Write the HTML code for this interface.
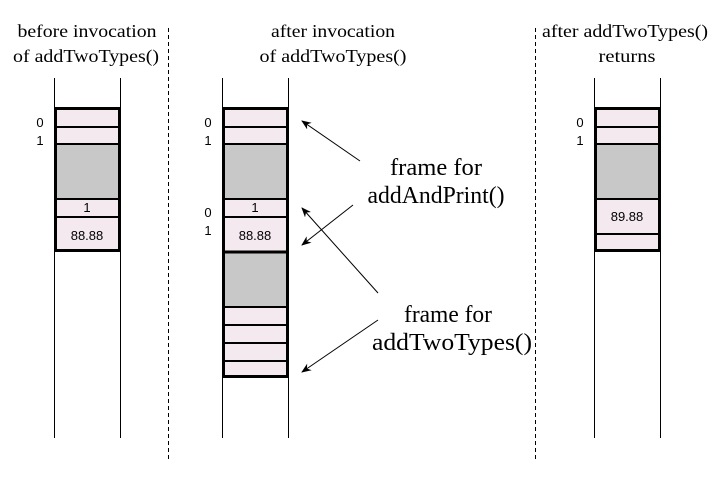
<!DOCTYPE html>
<html><head><style>body{margin:0;background:#fff}svg{display:block}</style></head><body>
<svg width="720" height="489" viewBox="0 0 720 489" xmlns="http://www.w3.org/2000/svg" font-family="'Liberation Serif','DejaVu Serif',serif">
<defs><marker id="a" markerWidth="10" markerHeight="8" refX="9" refY="4" orient="auto" markerUnits="userSpaceOnUse"><path d="M0,0 L10,4 L0,8 L3,4 z" fill="#000"/></marker></defs>
<g font-size="18" text-anchor="middle" font-family="'Liberation Serif',serif">
<text x="87" y="37" textLength="139" lengthAdjust="spacingAndGlyphs">before invocation</text><text x="86" y="62" textLength="146" lengthAdjust="spacingAndGlyphs">of addTwoTypes()</text>
<text x="333" y="37" textLength="124" lengthAdjust="spacingAndGlyphs">after invocation</text><text x="333" y="62" textLength="147" lengthAdjust="spacingAndGlyphs">of addTwoTypes()</text>
<text x="625" y="37" textLength="166" lengthAdjust="spacingAndGlyphs">after addTwoTypes()</text><text x="627" y="62" textLength="57" lengthAdjust="spacingAndGlyphs">returns</text>
</g>
<g stroke="#000" stroke-dasharray="4,3"><line x1="168.5" y1="28" x2="168.5" y2="462"/><line x1="535.5" y1="28" x2="535.5" y2="462"/></g>
<g stroke="#000"><line x1="54.5" y1="78" x2="54.5" y2="438"/><line x1="120.5" y1="78" x2="120.5" y2="438"/>
<line x1="222.5" y1="78" x2="222.5" y2="438"/><line x1="288.5" y1="78" x2="288.5" y2="438"/>
<line x1="594.5" y1="78" x2="594.5" y2="438"/><line x1="660.5" y1="78" x2="660.5" y2="438"/></g>
<rect x="55" y="108" width="65" height="143" fill="#f3e9ef"/>
<rect x="55" y="144" width="65" height="55" fill="#c8c8c8"/>
<g stroke="#000" stroke-width="2"><line x1="55" y1="127" x2="120" y2="127"/><line x1="55" y1="144" x2="120" y2="144"/><line x1="55" y1="199" x2="120" y2="199"/><line x1="55" y1="217" x2="120" y2="217"/></g>
<rect x="55.5" y="108.5" width="64" height="142" fill="none" stroke="#000" stroke-width="3"/>
<rect x="223" y="108" width="65" height="269" fill="#f3e9ef"/>
<rect x="223" y="144" width="65" height="55" fill="#c8c8c8"/>
<rect x="223" y="252" width="65" height="55" fill="#c8c8c8"/>
<g stroke="#000" stroke-width="2"><line x1="223" y1="127" x2="288" y2="127"/><line x1="223" y1="144" x2="288" y2="144"/><line x1="223" y1="199" x2="288" y2="199"/><line x1="223" y1="217" x2="288" y2="217"/><line x1="223" y1="307" x2="288" y2="307"/><line x1="223" y1="325" x2="288" y2="325"/><line x1="223" y1="343" x2="288" y2="343"/><line x1="223" y1="361" x2="288" y2="361"/></g>
<line x1="223" y1="252" x2="288" y2="252" stroke="#000" stroke-width="3"/>
<rect x="223.5" y="108.5" width="64" height="268" fill="none" stroke="#000" stroke-width="3"/>
<rect x="595" y="108" width="65" height="143" fill="#f3e9ef"/>
<rect x="595" y="144" width="65" height="55" fill="#c8c8c8"/>
<g stroke="#000" stroke-width="2"><line x1="595" y1="127" x2="660" y2="127"/><line x1="595" y1="144" x2="660" y2="144"/><line x1="595" y1="199" x2="660" y2="199"/><line x1="595" y1="234" x2="660" y2="234"/></g>
<rect x="595.5" y="108.5" width="64" height="142" fill="none" stroke="#000" stroke-width="3"/>
<g font-size="13" text-anchor="middle" font-family="'Liberation Sans',sans-serif">
<text x="87" y="212">1</text><text x="87" y="240">88.88</text>
<text x="255" y="212">1</text><text x="255" y="240">88.88</text>
<text x="627" y="221">89.88</text>
<text x="40" y="127">0</text><text x="40" y="145">1</text>
<text x="208" y="127">0</text><text x="208" y="145">1</text>
<text x="208" y="217">0</text><text x="208" y="235">1</text>
<text x="580" y="127">0</text><text x="580" y="145">1</text>
</g>
<g stroke="#000" stroke-width="1" marker-end="url(#a)">
<line x1="360" y1="161" x2="302" y2="121"/>
<line x1="353" y1="205" x2="302" y2="245"/>
<line x1="378" y1="293" x2="302" y2="208"/>
<line x1="378" y1="320" x2="302" y2="372"/>
</g>
<g font-size="24" text-anchor="middle" font-family="'Liberation Serif',serif">
<text x="436" y="175" textLength="92" lengthAdjust="spacingAndGlyphs">frame for</text><text x="436" y="203" textLength="137" lengthAdjust="spacingAndGlyphs">addAndPrint()</text>
<text x="448" y="322" textLength="88" lengthAdjust="spacingAndGlyphs">frame for</text><text x="452" y="350" textLength="160" lengthAdjust="spacingAndGlyphs">addTwoTypes()</text>
</g>
</svg>
</body></html>
